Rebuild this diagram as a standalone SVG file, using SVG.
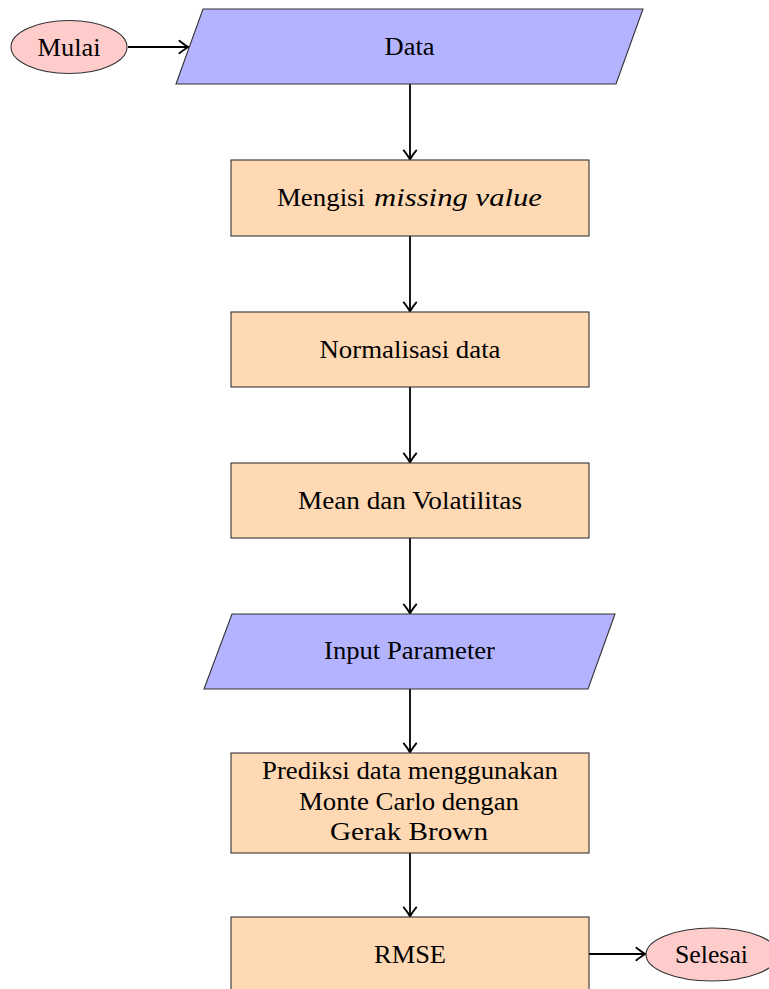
<svg xmlns="http://www.w3.org/2000/svg" width="769" height="989" viewBox="0 0 769 989">
<style>
.io{fill:#B3B3FF;stroke:#333;stroke-width:1.1}
.pr{fill:#FFD9B3;stroke:#333;stroke-width:1.1}
.te{fill:#FFCCCC;stroke:#333;stroke-width:1.1}
text{font-family:"Liberation Serif","Times New Roman","DejaVu Serif",serif;font-size:25.5px;fill:#000}
.it{font-style:italic}
.c{stroke:#000;stroke-width:1.8;fill:none;marker-end:url(#ah)}
</style>
<defs>
<marker id="ah" markerUnits="userSpaceOnUse" markerWidth="16" markerHeight="16" viewBox="-9 -7 11 14" refX="0" refY="0" orient="auto">
<path d="M-8,-5.5 Q-3,-1.5 0,0 Q-3,1.5 -8,5.5" fill="none" stroke="#000" stroke-width="1.6" stroke-linecap="round" stroke-linejoin="round"/>
</marker>
</defs>
<rect width="769" height="989" fill="#fff"/>
<g id="connectors">
<line class="c" x1="128" y1="47" x2="188.5" y2="47"/>
<line class="c" x1="410" y1="84" x2="410" y2="159.5"/>
<line class="c" x1="410" y1="236" x2="410" y2="311.5"/>
<line class="c" x1="410" y1="387" x2="410" y2="462.5"/>
<line class="c" x1="410" y1="538" x2="410" y2="613.5"/>
<line class="c" x1="410" y1="689" x2="410" y2="752.5"/>
<line class="c" x1="410" y1="853" x2="410" y2="916.5"/>
<line class="c" x1="589" y1="954" x2="645.5" y2="954"/>
</g>
<g id="mulai">
<ellipse class="te" cx="69" cy="47" rx="58" ry="26.5"/>
<text x="69" y="55.5" text-anchor="middle" textLength="63" lengthAdjust="spacingAndGlyphs">Mulai</text>
</g>
<g id="data">
<polygon class="io" points="203,9 643,9 616,84 176,84"/>
<text x="409.5" y="55" text-anchor="middle" textLength="50" lengthAdjust="spacingAndGlyphs">Data</text>
</g>
<g id="mengisi">
<rect class="pr" x="231" y="160" width="358" height="76"/>
<text x="277" y="206" textLength="88" lengthAdjust="spacingAndGlyphs">Mengisi</text>
<text class="it" x="374" y="206" textLength="168" lengthAdjust="spacingAndGlyphs">missing value</text>
</g>
<g id="normalisasi">
<rect class="pr" x="231" y="312" width="358" height="75"/>
<text x="410" y="358" text-anchor="middle" textLength="181" lengthAdjust="spacingAndGlyphs">Normalisasi data</text>
</g>
<g id="mean">
<rect class="pr" x="231" y="463" width="358" height="75"/>
<text x="410" y="509" text-anchor="middle" textLength="224" lengthAdjust="spacingAndGlyphs">Mean dan Volatilitas</text>
</g>
<g id="input">
<polygon class="io" points="232,614 615,614 588,689 204,689"/>
<text x="409.5" y="659" text-anchor="middle" textLength="171" lengthAdjust="spacingAndGlyphs">Input Parameter</text>
</g>
<g id="prediksi">
<rect class="pr" x="231" y="753" width="358" height="100"/>
<text x="410" y="779" text-anchor="middle" textLength="296" lengthAdjust="spacingAndGlyphs">Prediksi data menggunakan</text>
<text x="409" y="810" text-anchor="middle" textLength="220" lengthAdjust="spacingAndGlyphs">Monte Carlo dengan</text>
<text x="409" y="840" text-anchor="middle" textLength="158" lengthAdjust="spacingAndGlyphs">Gerak Brown</text>
</g>
<g id="rmse">
<rect class="pr" x="231" y="917" width="358" height="76"/>
<text x="410" y="963" text-anchor="middle" textLength="72" lengthAdjust="spacingAndGlyphs">RMSE</text>
</g>
<g id="selesai">
<ellipse class="te" cx="712" cy="954.5" rx="66" ry="26.5"/>
<text x="711.5" y="963" text-anchor="middle" textLength="73" lengthAdjust="spacingAndGlyphs">Selesai</text>
</g>
</svg>
